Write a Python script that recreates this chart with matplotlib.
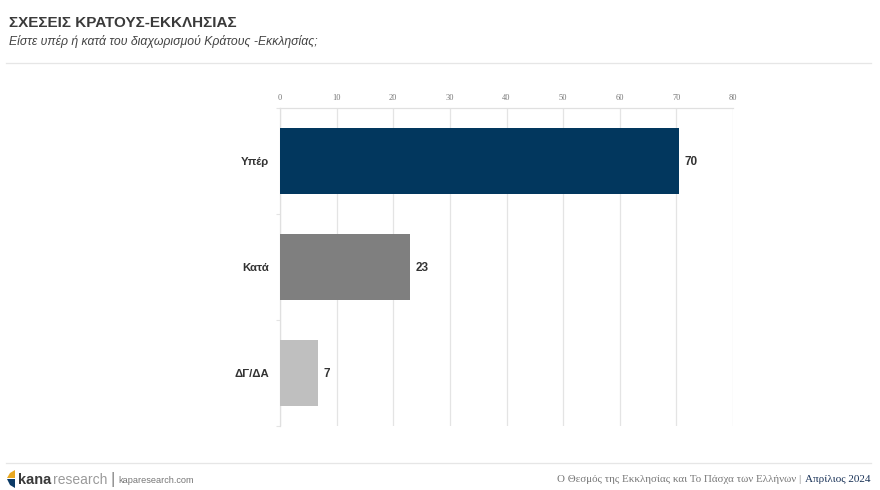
import matplotlib
matplotlib.use('Agg')
import matplotlib.pyplot as plt
from matplotlib.patches import Polygon

categories = ['Υπέρ', 'Κατά', 'ΔΓ/ΔΑ']
values = [70.45, 22.9, 6.7]
bar_colors = ['#02375e', '#7f7f7f', '#bfbfbf']
xticks = [0, 10, 20, 30, 40, 50, 60, 70, 80]

W, H = 880, 490
plt.rcParams['font.family'] = ['Liberation Sans', 'DejaVu Sans']

fig = plt.figure(figsize=(W / 100, H / 100), dpi=100)
ax = fig.add_axes([280 / W, 1 - 426 / H, 453 / W, 318 / H])

ypos = list(range(len(categories)))
bars = ax.barh(ypos, values, height=0.63, color=bar_colors, zorder=3)
ax.set_xlim(0, 80)
ax.set_ylim(2.5, -0.5)

ax.xaxis.tick_top()
ax.set_xticks(xticks)
ax.set_xticklabels(xticks, family='Liberation Serif', fontsize=6, color='#777777')
ax.tick_params(axis='x', length=0, pad=4)
ax.grid(axis='x', color='#e4e4e4', linewidth=0.9, zorder=0)

# category labels sit between the boundary ticks
ax.set_yticks([-0.5, 0.5, 1.5, 2.5])
ax.set_yticklabels([])
ax.tick_params(axis='y', length=3, color='#e4e4e4', width=0.8)
for y, name in zip(ypos, categories):
    ax.annotate(name, (0, y), xytext=(-8, -0.7), textcoords='offset points', ha='right', va='center',
                fontsize=8.2, fontweight='bold', color='#333333')

for s in ['right', 'bottom']:
    ax.spines[s].set_visible(False)
for s in ['top', 'left']:
    ax.spines[s].set_color('#e0e0e0')
    ax.spines[s].set_linewidth(0.9)

for y, v in zip(ypos, values):
    ax.annotate(f'{v:.0f}', (v, y), xytext=(4, -0.7), textcoords='offset points', ha='left', va='center',
                fontsize=8.5, fontweight='bold', color='#333333')

# header
fig.text(9 / W, 1 - 23 / H, 'ΣΧΕΣΕΙΣ ΚΡΑΤΟΥΣ-ΕΚΚΛΗΣΙΑΣ', fontsize=11, fontweight='bold',
         color='#3a3a3a', va='center')
fig.text(9 / W, 1 - 42 / H, 'Είστε υπέρ ή κατά του διαχωρισμού Κράτους -Εκκλησίας;', fontsize=8.85,
         style='italic', color='#444444', va='center')
fig.add_artist(plt.Line2D([6 / W, 871 / W], [1 - 63.5 / H] * 2, color='#e6e6e6', linewidth=0.9))
fig.add_artist(plt.Line2D([6 / W, 871 / W], [1 - 462.5 / H] * 2, color='#e6e6e6', linewidth=0.9))

# footer logo
def fig_poly(points, color):
    pts = [(x / W, 1 - y / H) for x, y in points]
    fig.add_artist(Polygon(pts, closed=True, transform=fig.transFigure, facecolor=color, edgecolor='none'))

fig_poly([(15, 470), (15, 478), (7, 478), (10, 473)], '#e9a820')
fig_poly([(7, 479), (15, 479), (15, 488), (10, 485)], '#0b3a66')

fig.text(18 / W, 1 - 479.5 / H, 'kana', fontsize=10.5, fontweight='bold', color='#3a3a3a', va='center')
fig.text(53 / W, 1 - 479.5 / H, 'research', fontsize=10, color='#9a9a9a', va='center')
fig.text(110 / W, 1 - 479.5 / H, '|', fontsize=12, color='#888888', va='center')
fig.text(118 / W, 1 - 480 / H, 'kaparesearch.com', fontsize=6.6, color='#777777', va='center')

fig.text(804 / W, 1 - 479.5 / H, 'Ο Θεσμός της Εκκλησίας και Το Πάσχα των Ελλήνων | ',
         family=['Liberation Serif', 'DejaVu Serif'], fontsize=7.9, color='#777777', ha='right', va='center')
fig.text(870 / W, 1 - 479.5 / H, 'Απρίλιος 2024', family=['Liberation Serif', 'DejaVu Serif'], fontsize=8,
         color='#1a3358', ha='right', va='center')

fig.savefig('out.png', dpi=100)
